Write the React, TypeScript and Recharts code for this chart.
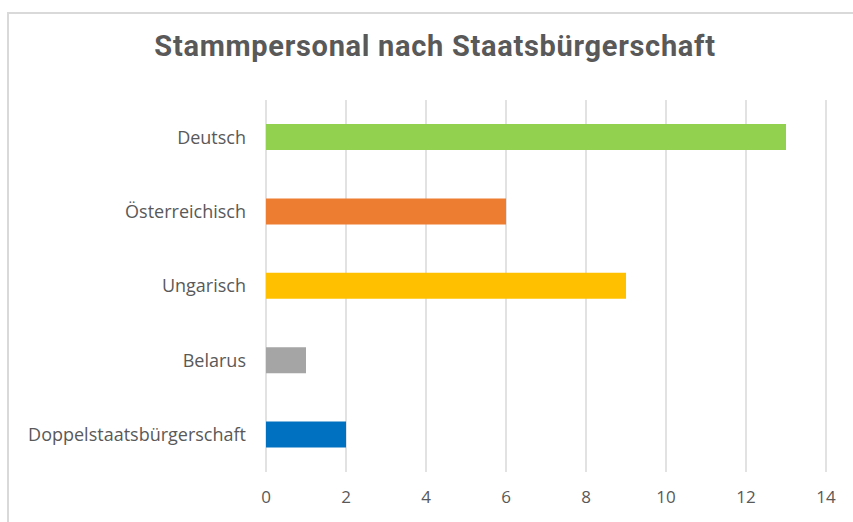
import { BarChart, Bar, XAxis, YAxis, CartesianGrid, Cell } from "recharts";

const kategorien = ["Deutsch", "Österreichisch", "Ungarisch", "Belarus", "Doppelstaatsbürgerschaft"];
const anzahl = [13, 6, 9, 1, 2];
const farben = ["#92D050", "#ED7D31", "#FFC000", "#A5A5A5", "#0070C0"];
const xTicks = [0, 2, 4, 6, 8, 10, 12, 14];

const daten = kategorien.map((name, i) => ({ name, wert: anzahl[i] }));

export default function App() {
    return (
        <div style={{ position: "absolute", left: 0, top: 0, width: 853, height: 522, background: "#fff", overflow: "hidden" }}>
            <div style={{ position: "absolute", left: 7, top: 12, width: 900, height: 600, borderTop: "2px solid #d9d9d9", borderLeft: "2px solid #d9d9d9" }} />
            <div style={{
                position: "absolute", left: 0, top: 29, width: 870, textAlign: "center",
                fontFamily: "Roboto", fontWeight: 700, fontSize: 29, letterSpacing: 0.7, color: "#595959",
            }}>
                Stammpersonal nach Staatsbürgerschaft
            </div>
            <div style={{ position: "absolute", left: 0, top: 0 }}>
                <BarChart width={853} height={522} data={daten} layout="vertical"
                    margin={{ top: 100, right: 27, bottom: 20, left: 0 }}>
                    <CartesianGrid horizontal={false} stroke="#d9d9d9" strokeWidth={1.5} />
                    <XAxis type="number" domain={[0, 14]} ticks={xTicks} height={30}
                        axisLine={false} tickLine={false} tickMargin={13}
                        tick={{ fill: "#595959", fontSize: 17, fontFamily: "Open Sans" }} />
                    <YAxis type="category" dataKey="name" width={266}
                        axisLine={false} tickLine={false} tickMargin={14}
                        tick={{ fill: "#595959", fontSize: 18, fontFamily: "Open Sans" }} />
                    <Bar dataKey="wert" barSize={26} isAnimationActive={false}>
                        {daten.map((d, i) => <Cell key={d.name} fill={farben[i]} />)}
                    </Bar>
                </BarChart>
            </div>
        </div>
    );
}
